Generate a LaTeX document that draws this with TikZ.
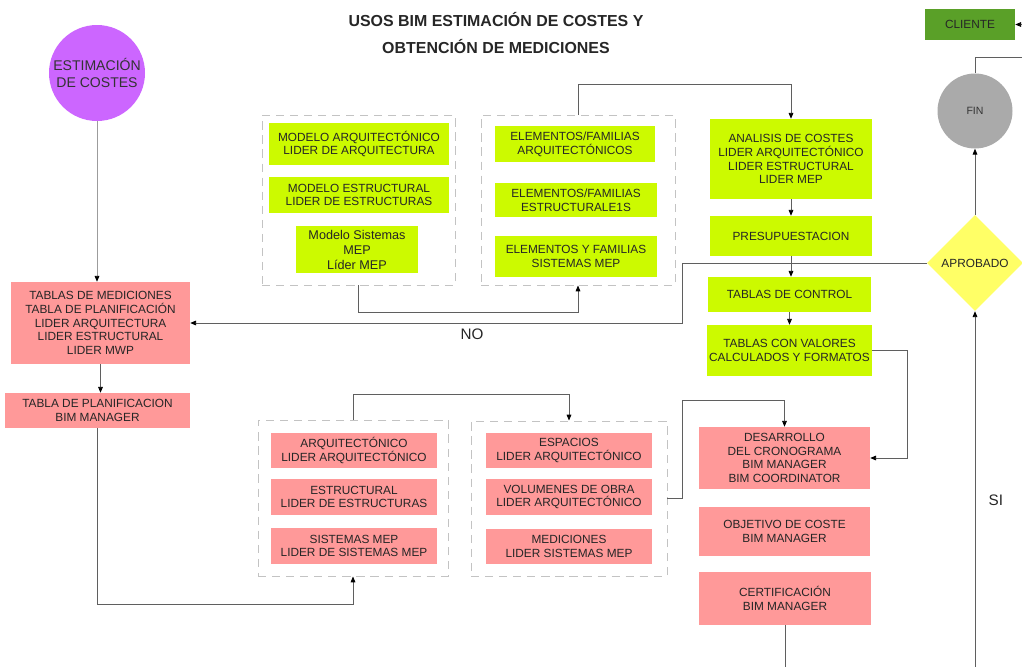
\documentclass[tikz,border=0pt]{standalone}
\usepackage{fontspec}
\setmainfont{Liberation Sans}
\usetikzlibrary{shapes.geometric, arrows.meta}
\definecolor{lima}{RGB}{204,250,0}
\definecolor{rosa}{RGB}{255,153,153}
\definecolor{violeta}{RGB}{204,102,255}
\definecolor{oliva}{RGB}{90,160,40}
\definecolor{amarillo}{RGB}{255,255,102}
\definecolor{gris}{RGB}{170,170,170}
\definecolor{linea}{RGB}{95,95,95}
\definecolor{trazo}{RGB}{195,195,195}
\newlength\pxu
\setlength\pxu{0.03cm}
\tikzset{tam/.style 2 args={minimum width=#1*\pxu, minimum height=#2*\pxu},
         caja/.style={inner sep=0pt, align=center, text=black!85,
                      font=\fontsize{10.1pt}{11.8pt}\selectfont},
         verde/.style={caja, fill=lima},
         rosada/.style={caja, fill=rosa},
         grupo/.style={draw=trazo, line width=0.8pt, dash pattern=on 7pt off 5pt},
         flecha/.style={draw=linea, line width=0.7pt, -{Triangle[length=5pt,width=4pt,black]}},
         etiqueta/.style={font=\fontsize{13pt}{15pt}\selectfont, text=black!85},
        }

\begin{document}
\begin{tikzpicture}[x=0.03cm, y=-0.03cm]
        \useasboundingbox (0,0) rectangle (1022,667);
        \clip (0,0) rectangle (1022,667);

        \node[font=\fontsize{13.6pt}{23.8pt}\selectfont\bfseries, align=center, text=black!85](titulo)at(496,33)
            {USOS BIM ESTIMACIÓN DE COSTES Y\\OBTENCIÓN DE MEDICIONES};

        \node[circle, fill=violeta, minimum size=96*\pxu, inner sep=0pt, align=center, text=black!80,
              font=\fontsize{12pt}{14pt}\selectfont](est)at(97,73){ESTIMACIÓN\\DE COSTES};
        \node[rosada, tam={179}{82}](tmed)at(100.5,323)
            {TABLAS DE MEDICIONES\\TABLA DE PLANIFICACIÓN\\LIDER ARQUITECTURA\\LIDER ESTRUCTURAL\\LIDER MWP};
        \node[rosada, tam={185}{35}](tplan)at(97.5,410.5){TABLA DE PLANIFICACION\\BIM MANAGER};

        % modelos y elementos
        \node[grupo, tam={193}{170}](gmod)at(358.5,200){};
        \node[verde, tam={180}{42}](marq)at(359,144){MODELO ARQUITECTÓNICO\\LIDER DE ARQUITECTURA};
        \node[verde, tam={180}{36}](mest)at(359,195){MODELO ESTRUCTURAL\\LIDER DE ESTRUCTURAS};
        \node[verde, tam={122}{47}, font=\fontsize{10.8pt}{12.8pt}\selectfont](mmep)at(357,249.5)
            {Modelo Sistemas\\MEP\\Líder MEP};
        \node[grupo, tam={194}{170}](gele)at(578,200){};
        \node[verde, tam={160}{36}](earq)at(575,144){ELEMENTOS/FAMILIAS\\ARQUITECTÓNICOS};
        \node[verde, tam={162}{34}](eest)at(576,200){ELEMENTOS/FAMILIAS\\ESTRUCTURALE1S};
        \node[verde, tam={162}{41}](emep)at(576,256.5){ELEMENTOS Y FAMILIAS\\SISTEMAS MEP};

        % costes
        \node[verde, tam={162}{80}](ana)at(791,159)
            {ANALISIS DE COSTES\\LIDER ARQUITECTÓNICO\\LIDER ESTRUCTURAL\\LIDER MEP};
        \node[verde, tam={162}{40}](pre)at(791,236){PRESUPUESTACION};
        \node[verde, tam={163}{35}](ctl)at(789.5,294.5){TABLAS DE CONTROL};
        \node[verde, tam={165}{51}](val)at(789.5,350.5){TABLAS CON VALORES\\CALCULADOS Y FORMATOS};

        % mediciones
        \node[grupo, tam={190}{156}](gdis)at(353,498){};
        \node[rosada, tam={166}{35}](darq)at(354,450.5){ARQUITECTÓNICO\\LIDER ARQUITECTÓNICO};
        \node[rosada, tam={166}{36}](dest)at(354,497){ESTRUCTURAL\\LIDER DE ESTRUCTURAS};
        \node[rosada, tam={166}{36}](dmep)at(354,546){SISTEMAS MEP\\LIDER DE SISTEMAS MEP};
        \node[grupo, tam={196}{155}](gmed)at(569,498.5){};
        \node[rosada, tam={166}{35}](esp)at(569,450.5){ESPACIOS\\LIDER ARQUITECTÓNICO};
        \node[rosada, tam={166}{36}](vol)at(569,497){VOLUMENES DE OBRA\\LIDER ARQUITECTÓNICO};
        \node[rosada, tam={166}{35}](med)at(569,546.5){MEDICIONES\\LIDER SISTEMAS MEP};

        \node[rosada, tam={171}{62}](des)at(784.5,458)
            {DESARROLLO\\DEL CRONOGRAMA\\BIM MANAGER\\BIM COORDINATOR};
        \node[rosada, tam={171}{49}](obj)at(784.5,531.5){OBJETIVO DE COSTE\\BIM MANAGER};
        \node[rosada, tam={172}{53}](cer)at(785,598.5){CERTIFICACIÓN\\BIM MANAGER};

        % decision
        \node[diamond, fill=amarillo, minimum size=96*\pxu, inner sep=0pt,
              text=black!85, font=\fontsize{10.1pt}{11.8pt}\selectfont](apr)at(975,263){APROBADO};
        \node[circle, fill=gris, minimum size=75*\pxu, inner sep=0pt, text=black!80,
              font=\fontsize{9pt}{10pt}\selectfont](fin)at(975,111){FIN};
        \node[caja, fill=oliva, tam={90}{31}](cli)at(970,24.5){CLIENTE};

        \draw[flecha, draw=trazo!80!black](est.south)--(est.south |- tmed.north);
        \draw[flecha](tmed.south)--(tmed.south |- tplan.north);
        \draw[flecha](tplan.south)--++(0,176)-|(gdis.south);
        \draw[flecha](gdis.north)--++(0,-25)-|(gmed.north);
        \draw[flecha](gmed.east)-|(682,400)-|(des.north);
        \draw[flecha](val.east)--++(35,0)|-(des.east);

        \draw[flecha](gmod.south)--++(0,27)-|(gele.south);
        \draw[flecha](gele.north)--++(0,-30)-|(ana.north);
        \draw[flecha](ana.south)--(pre.north);
        \draw[flecha](pre.south)--(pre.south |- ctl.north);
        \draw[flecha](ctl.south)--(val.north);

        \draw[flecha](apr.west)--++(-244,0)|-(tmed.east)node[etiqueta, pos=0.714, below=1.5pt]{NO};
        \draw[flecha](apr.north)--(fin.south);
        \draw[flecha](fin.north)|-(1040,57)|-(cli.east);
        \draw[flecha](cer.south)--++(0,50)-|(apr.south)node[etiqueta, pos=0.74, right=8pt]{SI};
\end{tikzpicture}
\end{document}
